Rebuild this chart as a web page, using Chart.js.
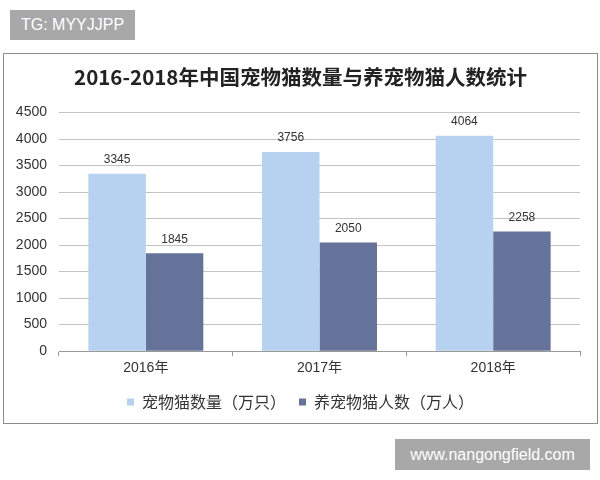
<!DOCTYPE html>
<html>
<head>
<meta charset="utf-8">
<script src="https://cdn.jsdelivr.net/npm/chart.js@4"></script>
<style>
  body { margin: 0; background: #fff; width: 600px; height: 480px; position: relative; overflow: hidden; }
  .tag { position: absolute; left: 10px; top: 10px; width: 125px; height: 30px; background: #a8a8a8; color: #fff;
         font: 16px 'Liberation Sans', Arial, sans-serif; line-height: 30px; text-align: center; }
  .site { position: absolute; left: 395px; top: 439px; width: 195px; height: 31px; background: #a8a8a8; color: #fff;
          font: 16px 'Liberation Sans', Arial, sans-serif; line-height: 31px; text-align: center; }
  .box { position: absolute; left: 3px; top: 53px; width: 595px; height: 371px; box-sizing: border-box; border: 1px solid #8c8c8c; }
  canvas { display: block; }
</style>
</head>
<body>
<div class="tag">TG: MYYJJPP</div>
<div class="box"><canvas id="chart" width="593" height="369"></canvas></div>
<div class="site">www.nangongfield.com</div>
<script>
// chart data
const years = ['2016年', '2017年', '2018年'];
const catCount = [3345, 3756, 4064];      // 宠物猫数量（万只）
const ownerCount = [1845, 2050, 2258];    // 养宠物猫人数（万人）
const yTicks = [0, 500, 1000, 1500, 2000, 2500, 3000, 3500, 4000, 4500];

const sansFont = "'Liberation Sans', Arial, 'Noto Sans CJK SC', sans-serif";

// draws the value above every bar
const barLabels = {
    id: 'barLabels',
    afterDatasetsDraw(chart) {
        const ctx = chart.ctx;
        ctx.save();
        ctx.font = '12px ' + sansFont;
        ctx.fillStyle = '#333';
        ctx.textAlign = 'center';
        ctx.textBaseline = 'middle';
        chart.data.datasets.forEach((ds, i) => {
            chart.getDatasetMeta(i).data.forEach((bar, j) => {
                ctx.fillText(ds.data[j], bar.x, bar.y - 14);
            });
        });
        ctx.restore();
    }
};

new Chart(document.getElementById('chart'), {
    type: 'bar',
    data: {
        labels: years,
        datasets: [{
            label: '宠物猫数量（万只）',
            data: catCount,
            backgroundColor: '#b7d1f0',
            categoryPercentage: 0.662,
            barPercentage: 1
        }, {
            label: '养宠物猫人数（万人）',
            data: ownerCount,
            backgroundColor: '#65739b',
            categoryPercentage: 0.662,
            barPercentage: 1
        }]
    },
    options: {
        responsive: false,
        animation: false,
        // equal side padding keeps title and legend centred in the box
        layout: { padding: { top: 11, left: 8, right: 8, bottom: 3 } },
        plugins: {
            title: {
                display: true,
                text: '2016-2018年中国宠物猫数量与养宠物猫人数统计',
                color: '#222',
                font: { family: "'Noto Sans CJK SC', sans-serif", size: 20.5, weight: 'bold' },
                padding: { top: 0, bottom: 23 }
            },
            legend: {
                position: 'bottom',
                labels: {
                    color: '#333',
                    boxWidth: 7,
                    boxHeight: 7,
                    padding: 13,
                    font: { family: "'Noto Sans CJK SC', sans-serif", size: 16 }
                }
            },
            tooltip: { enabled: false }
        },
        scales: {
            x: {
                grid: { offset: true, drawOnChartArea: false, color: '#999', tickLength: 5 },
                border: { color: '#999' },
                ticks: { color: '#333', padding: 9, font: { family: sansFont, size: 14, lineHeight: 0.49 } }
            },
            y: {
                min: 0,
                max: 4500,
                afterBuildTicks(axis) { axis.ticks = yTicks.map(v => ({ value: v })); },
                afterFit(axis) { axis.width = 47; },
                grid: { color: '#c4c4c4', drawTicks: false },
                border: { display: false },
                ticks: { color: '#333', padding: 12, font: { family: sansFont, size: 14 }, callback: v => String(v) }
            },
            // empty right-hand strip so the plot ends where the reference does
            yRight: {
                position: 'right',
                afterFit(axis) { axis.width = 9; },
                grid: { drawOnChartArea: false, drawTicks: false },
                border: { display: false },
                ticks: { display: false }
            }
        }
    },
    plugins: [barLabels]
});
</script>
</body>
</html>
